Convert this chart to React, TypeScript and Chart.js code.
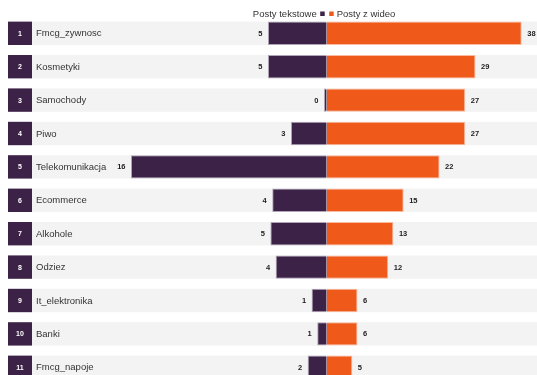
import React, { useEffect, useRef } from 'react';
import { Chart, registerables } from 'chart.js';

Chart.register(...registerables);

const categories = [
  'Fmcg_zywnosc',
  'Kosmetyki',
  'Samochody',
  'Piwo',
  'Telekomunikacja',
  'Ecommerce',
  'Alkohole',
  'Odziez',
  'It_elektronika',
  'Banki',
  'Fmcg_napoje',
];
const rankLabels = ['1', '2', '3', '4', '5', '6', '7', '8', '9', '10', '11'];
const textPosts = [4.8, 4.8, 0.22, 2.92, 16.0, 4.45, 4.6, 4.17, 1.23, 0.77, 1.55];
const videoPosts = [38, 29, 27, 27, 22, 15, 13, 12, 6, 6, 5];
const seriesNames = ['Posty tekstowe', 'Posty z wideo'];

const PURPLE = '#3b2246';
const ORANGE = '#ef5a1a';
const BAND = '#f3f3f3';
const FONT = "'Liberation Sans', Arial, Helvetica, sans-serif";

const W = 537;
const H = 384;

export default function App() {
  const ref = useRef<HTMLCanvasElement>(null);

  useEffect(() => {
    const canvas = ref.current;
    if (!canvas) return;

    const bandsPlugin = {
      id: 'bands',
      beforeDatasetsDraw(chart: any) {
        const { ctx, scales } = chart;
        const y = scales.y;
        const step = y.getPixelForValue(1) - y.getPixelForValue(0);
        const bh = step * 0.7;
        ctx.save();
        categories.forEach((cat, i) => {
          const cy = y.getPixelForValue(i);
          const top = cy - bh / 2;
          ctx.fillStyle = BAND;
          ctx.fillRect(32, top, chart.width - 32, bh);
          ctx.fillStyle = PURPLE;
          ctx.fillRect(8, top, 24, bh);
          ctx.fillStyle = '#ffffff';
          ctx.font = `bold 7px ${FONT}`;
          ctx.textAlign = 'center';
          ctx.textBaseline = 'middle';
          ctx.fillText(rankLabels[i], 20, cy + 0.5);
          ctx.fillStyle = '#333333';
          ctx.font = `9.5px ${FONT}`;
          ctx.textAlign = 'left';
          ctx.fillText(cat, 36, cy + 0.5);
        });
        ctx.restore();
      },
    };

    const valuesPlugin = {
      id: 'values',
      afterDatasetsDraw(chart: any) {
        const { ctx } = chart;
        ctx.save();
        ctx.font = `bold 7.5px ${FONT}`;
        ctx.fillStyle = '#222222';
        ctx.textBaseline = 'middle';
        chart.data.datasets.forEach((ds: any, d: number) => {
          const meta = chart.getDatasetMeta(d);
          meta.data.forEach((el: any, i: number) => {
            const label = String(Math.round(ds.data[i]));
            if (d === 0) {
              ctx.textAlign = 'right';
              ctx.fillText(label, el.x - 5.5, el.y + 0.5);
            } else {
              ctx.textAlign = 'left';
              ctx.fillText(label, el.x + 5.5, el.y + 0.5);
            }
          });
        });
        ctx.restore();
      },
    };

    const legendPlugin = {
      id: 'customLegend',
      afterDraw(chart: any) {
        const { ctx, scales } = chart;
        const c = scales.xVideo.getPixelForValue(0);
        const ly = 14;
        ctx.save();
        ctx.font = `9.5px ${FONT}`;
        ctx.fillStyle = '#333333';
        ctx.textBaseline = 'middle';
        ctx.textAlign = 'right';
        ctx.fillText(seriesNames[0], c - 10, ly);
        ctx.fillStyle = PURPLE;
        ctx.fillRect(c - 6.5, ly - 2.5, 4.5, 4.5);
        ctx.fillStyle = ORANGE;
        ctx.fillRect(c + 2.5, ly - 2.5, 4.5, 4.5);
        ctx.fillStyle = '#333333';
        ctx.textAlign = 'left';
        ctx.fillText(seriesNames[1], c + 10, ly);
        ctx.restore();
      },
    };

    const chart = new Chart(canvas, {
      type: 'bar',
      data: {
        labels: categories,
        datasets: [
          {
            label: seriesNames[0],
            data: textPosts,
            xAxisID: 'xText',
            backgroundColor: PURPLE,
            borderColor: 'rgba(150,130,160,0.7)',
            borderWidth: 1,
            grouped: false,
            categoryPercentage: 1,
            barPercentage: 0.7,
          },
          {
            label: seriesNames[1],
            data: videoPosts,
            xAxisID: 'xVideo',
            backgroundColor: ORANGE,
            borderColor: 'rgba(250,180,150,0.9)',
            borderWidth: 1,
            grouped: false,
            categoryPercentage: 1,
            barPercentage: 0.7,
          },
        ],
      },
      options: {
        indexAxis: 'y',
        responsive: false,
        animation: false,
        devicePixelRatio: 1,
        layout: { padding: { top: 16.6, left: 0, right: 0, bottom: 0 } },
        plugins: {
          legend: { display: false },
          tooltip: { enabled: false },
        },
        scales: {
          y: {
            type: 'category',
            display: false,
            offset: true,
            grid: { display: false },
          },
          xVideo: {
            type: 'linear',
            display: false,
            min: -63.665,
            max: 40.98,
          },
          xText: {
            type: 'linear',
            display: false,
            reverse: true,
            min: -17.2,
            max: 26.71,
          },
        },
      } as any,
      plugins: [bandsPlugin, valuesPlugin, legendPlugin],
    });

    return () => {
      chart.destroy();
    };
  }, []);

  return (
    <div
      style={{
        position: 'fixed',
        left: 0,
        top: 0,
        width: W,
        height: 375,
        overflow: 'hidden',
        background: '#ffffff',
      }}
    >
      <canvas ref={ref} width={W} height={H} style={{ display: 'block', width: W, height: H }} />
    </div>
  );
}
